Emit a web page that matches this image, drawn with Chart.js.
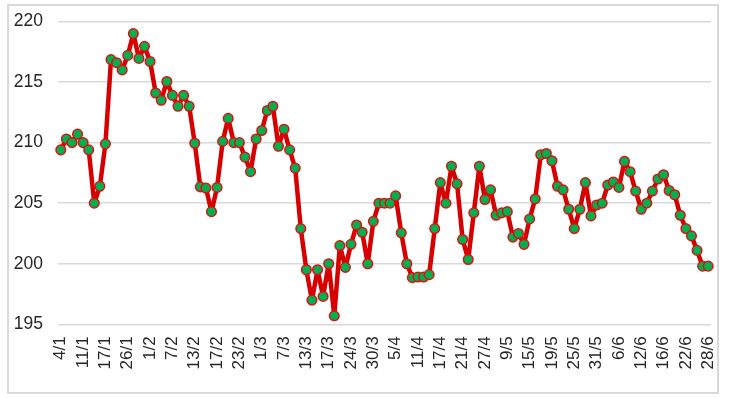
<!DOCTYPE html>
<html>
<head>
<meta charset="utf-8">
<script src="https://cdn.jsdelivr.net/npm/chart.js@4/dist/chart.umd.min.js"></script>
<style>
  html, body { margin: 0; padding: 0; background: #fff; }
  #wrap { position: relative; width: 730px; height: 398px; }
  #frame { position: absolute; left: 7px; top: 4px; width: 712px; height: 390px; border: 2px solid #d9d9d9; box-sizing: border-box; pointer-events: none; }
</style>
</head>
<body>
<div id="wrap">
  <canvas id="c" width="730" height="398"></canvas>
  <div id="frame"></div>
</div>
<script>
const tickLabels = ["4/1","11/1","17/1","26/1","1/2","7/2","13/2","17/2","23/2","1/3","7/3","13/3","17/3","24/3","30/3","5/4","11/4","17/4","21/4","27/4","9/5","15/5","19/5","25/5","31/5","6/6","12/6","16/6","22/6","28/6"];
const labelEvery = 4;
const values = [
  209.4, 210.3, 210.0, 210.7, 210.0, 209.4, 205.0, 206.4, 209.9, 216.85,
  216.6, 216.0, 217.2, 219.0, 216.95, 217.95, 216.7, 214.1, 213.5, 215.05,
  213.9, 213.0, 213.9, 213.0, 209.95, 206.35, 206.25, 204.3, 206.3, 210.1,
  212.0, 210.0, 210.0, 208.8, 207.6, 210.3, 211.0, 212.65, 213.0, 209.7,
  211.1, 209.4, 207.9, 202.9, 199.5, 197.0, 199.5, 197.3, 200.0, 195.7,
  201.5, 199.7, 201.6, 203.2, 202.6, 200.0, 203.5, 205.0, 205.0, 205.0,
  205.6, 202.55, 200.0, 198.85, 198.9, 198.9, 199.1, 202.9, 206.7, 205.0,
  208.05, 206.6, 202.0, 200.35, 204.2, 208.05, 205.3, 206.1, 204.0, 204.2,
  204.3, 202.2, 202.5, 201.6, 203.7, 205.35, 209.0, 209.1, 208.5, 206.4,
  206.1, 204.5, 202.9, 204.5, 206.7, 203.95, 204.85, 205.0, 206.5, 206.75,
  206.3, 208.45, 207.6, 206.0, 204.5, 205.0, 206.0, 207.0, 207.35, 206.05,
  205.7, 204.0, 202.9, 202.3, 201.1, 199.8, 199.8
];
const yMin = 195, yMax = 220, yStep = 5;

const categories = values.map((_, i) => i);
const font = { family: "'Liberation Sans', Arial, sans-serif", size: 17 };

new Chart(document.getElementById('c'), {
  type: 'line',
  data: {
    labels: categories,
    datasets: [{
      data: values,
      borderColor: '#d60000',
      borderWidth: 4.5,
      borderJoinStyle: 'round',
      borderCapStyle: 'round',
      pointBackgroundColor: '#00b050',
      pointBorderColor: '#e01010',
      pointBorderWidth: 1.5,
      pointRadius: 4.8,
      tension: 0,
      fill: false
    }]
  },
  options: {
    responsive: false,
    animation: false,
    devicePixelRatio: 1,
    layout: { padding: { top: 21.5, right: 19, left: 0, bottom: 0 } },
    plugins: { legend: { display: false }, tooltip: { enabled: false } },
    scales: {
      x: {
        type: 'category',
        offset: true,
        grid: { display: false, drawTicks: false },
        border: { display: false },
        ticks: {
          autoSkip: false,
          minRotation: 90,
          maxRotation: 90,
          padding: 12,
          color: '#262626',
          font: font,
          callback: (v, i) => (i % labelEvery === 0 ? tickLabels[i / labelEvery] : null)
        },
        afterFit: s => { s.height = 73.7; s.paddingLeft = 0; s.paddingRight = 0; }
      },
      y: {
        min: yMin,
        max: yMax,
        grid: { color: '#d9d9d9', lineWidth: 1.5, drawTicks: false },
        border: { display: false },
        ticks: { stepSize: yStep, padding: 15, color: '#262626', font: { family: font.family, size: 17.5 } },
        afterFit: s => { s.width = 58; s.paddingTop = 0; s.paddingBottom = 0; }
      }
    }
  }
});
</script>
</body>
</html>
